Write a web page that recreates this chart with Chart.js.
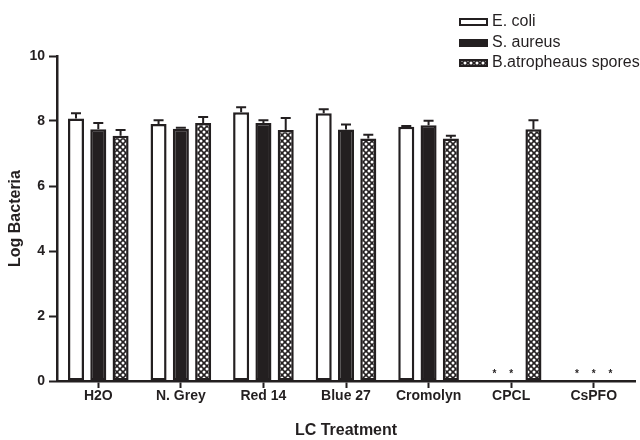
<!DOCTYPE html>
<html>
<head>
<meta charset="utf-8">
<script src="https://cdn.jsdelivr.net/npm/chart.js@4"></script>
<style>
  html, body { margin: 0; padding: 0; background: #fff; }
  #wrap { width: 640px; height: 440px; }
</style>
</head>
<body>
<div id="wrap"><canvas id="grafikBakteri" width="640" height="440"></canvas></div>
<script>
const treatments = ['H2O', 'N. Grey', 'Red 14', 'Blue 27', 'Cromolyn', 'CPCL', 'CsPFO'];
const seriesNames = ['E. coli', 'S. aureus', 'B.atropheaus spores'];
const yTicks = [0, 2, 4, 6, 8, 10];

// mean log counts (0 = none detected, shown with *)
const ecoli = [8.08, 7.91, 8.27, 8.24, 7.82, 0, 0];
const saureus = [7.75, 7.76, 7.94, 7.74, 7.87, 0, 0];
const spores = [7.55, 7.94, 7.72, 7.46, 7.46, 7.75, 0];

// upper error (SD)
const ecoliErr = [0.16, 0.11, 0.15, 0.12, 0.03, 0, 0];
const saureusErr = [0.19, 0.03, 0.08, 0.15, 0.14, 0, 0];
const sporesErr = [0.17, 0.18, 0.37, 0.12, 0.09, 0.27, 0];

const ink = '#231f20';
const fontFam = '"Liberation Sans", Arial, sans-serif';

function makeHatch() {
    const c = document.createElement('canvas');
    c.width = 6; c.height = 6;
    const g = c.getContext('2d');
    g.fillStyle = ink;
    g.fillRect(0, 0, 6, 6);
    g.fillStyle = '#fff';
    [[0, 0], [6, 0], [0, 6], [6, 6], [3, 3]].forEach(function(p) {
        g.beginPath();
        g.arc(p[0], p[1], 1.5, 0, Math.PI * 2);
        g.fill();
    });
    return g.createPattern(c, 'repeat');
}

document.addEventListener('DOMContentLoaded', function() {
    const canvas = document.getElementById('grafikBakteri');
    const ctx = canvas.getContext('2d');
    const hatch = makeHatch();
    const errors = [ecoliErr, saureusErr, sporesErr];

    const errorBars = {
        id: 'errorBars',
        afterDatasetsDraw(chart) {
            const g = chart.ctx;
            const y = chart.scales.y;
            const x = chart.scales.x;
            g.save();
            g.strokeStyle = ink;
            g.fillStyle = ink;
            g.lineWidth = 2;
            chart.data.datasets.forEach(function(ds, di) {
                const meta = chart.getDatasetMeta(di);
                meta.data.forEach(function(bar, i) {
                    const v = ds.data[i];
                    if (v === 0) {
                        const gc = x.getPixelForValue(i);
                        const ax = gc + 0.75 * (bar.x - gc);
                        g.font = 'bold 10px ' + fontFam;
                        g.textAlign = 'center';
                        g.textBaseline = 'middle';
                        g.fillText('*', ax, y.getPixelForValue(0) - 7);
                        return;
                    }
                    const e = errors[di][i];
                    if (!e) return;
                    const top = y.getPixelForValue(v + e);
                    g.beginPath();
                    g.moveTo(bar.x, bar.y);
                    g.lineTo(bar.x, top);
                    g.moveTo(bar.x - 5, top);
                    g.lineTo(bar.x + 5, top);
                    g.stroke();
                });
            });
            g.restore();
        }
    };

    const sideLegend = {
        id: 'sideLegend',
        afterDraw(chart) {
            const g = chart.ctx;
            const rows = [22, 43, 63];
            g.save();
            g.font = '16px ' + fontFam;
            g.textBaseline = 'middle';
            g.textAlign = 'left';
            chart.data.datasets.forEach(function(ds, di) {
                const cy = rows[di];
                g.fillStyle = ds.backgroundColor;
                g.fillRect(459, cy - 4, 29, 8);
                g.strokeStyle = ink;
                g.lineWidth = 2;
                g.strokeRect(460, cy - 3, 27, 6);
                g.fillStyle = ink;
                g.fillText(ds.label, 492, cy);
            });
            g.restore();
        }
    };

    const zeroBorder = function(c) { return c.raw === 0 ? 0 : 2.5; };

    new Chart(ctx, {
        type: 'bar',
        data: {
            labels: treatments,
            datasets: [
                {
                    label: seriesNames[0],
                    data: ecoli,
                    backgroundColor: '#ffffff',
                    borderColor: ink,
                    borderWidth: zeroBorder,
                    borderSkipped: false
                },
                {
                    label: seriesNames[1],
                    data: saureus,
                    backgroundColor: ink,
                    borderColor: ink,
                    borderWidth: zeroBorder,
                    borderSkipped: false
                },
                {
                    label: seriesNames[2],
                    data: spores,
                    backgroundColor: hatch,
                    borderColor: ink,
                    borderWidth: zeroBorder,
                    borderSkipped: false
                }
            ]
        },
        options: {
            responsive: false,
            animation: false,
            categoryPercentage: 0.81,
            barPercentage: 0.72,
            layout: { padding: { top: 56, right: 5, left: 0, bottom: 0 } },
            plugins: {
                legend: { display: false },
                tooltip: { enabled: false }
            },
            scales: {
                y: {
                    min: 0,
                    max: 10,
                    afterBuildTicks: function(s) { s.ticks = yTicks.map(function(v) { return { value: v }; }); },
                    afterFit: function(s) { s.width = 57; },
                    border: { color: ink, width: 2.5 },
                    grid: { drawOnChartArea: false, drawTicks: true, tickLength: 8, tickWidth: 2, tickColor: ink },
                    ticks: {
                        padding: 4,
                        color: ink,
                        font: { family: fontFam, size: 14, weight: 'bold' }
                    },
                    title: {
                        display: true,
                        text: 'Log Bacteria',
                        color: ink,
                        padding: { top: 6, bottom: 0 },
                        font: { family: fontFam, size: 16, weight: 'bold' }
                    }
                },
                x: {
                    afterFit: function(s) { s.height = 59; },
                    border: { color: ink, width: 2.5 },
                    grid: { offset: false, drawOnChartArea: false, drawTicks: true, tickLength: 7, tickWidth: 2, tickColor: ink },
                    ticks: {
                        padding: 0,
                        color: ink,
                        maxRotation: 0,
                        font: { family: fontFam, size: 14, weight: 'bold' }
                    },
                    title: {
                        display: true,
                        text: 'LC Treatment',
                        color: ink,
                        padding: { top: 0, bottom: 0 },
                        font: { family: fontFam, size: 16, weight: 'bold' }
                    }
                }
            }
        },
        plugins: [errorBars, sideLegend]
    });
});
</script>
</body>
</html>
